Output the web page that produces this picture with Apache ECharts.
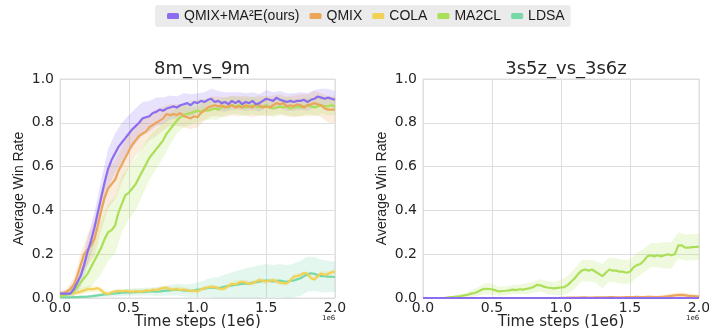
<!DOCTYPE html>
<html>
<head>
<meta charset="utf-8">
<script src="https://cdn.jsdelivr.net/npm/echarts@6/dist/echarts.min.js"></script>
<style>
  html, body { margin: 0; padding: 0; background: #ffffff; }
  #chart { width: 709px; height: 328px; }
</style>
</head>
<body>
<div id="chart"></div>
<script>
// Training steps (in units of 1e6), sampled every 0.025
const steps = Array.from({ length: 81 }, (_, i) => +(i * 0.025).toFixed(3));

const methodNames = ['QMIX+MA\u00B2E(ours)', 'QMIX', 'COLA', 'MA2CL', 'LDSA'];
const methodColors = ['#8c6df0', '#eca65c', '#f2d156', '#abdf57', '#76d7a9'];

const xTicks = [0, 0.5, 1.0, 1.5, 2.0];
const yTicks = [0, 0.2, 0.4, 0.6, 0.8, 1.0];

// ---- 8m_vs_9m : mean win rate ----
const m9Ma2e = [0.02,0.02,0.02,0.02,0.04,0.07,0.10,0.15,0.21,0.26,
  0.32,0.39,0.46,0.53,0.59,0.63,0.66,0.69,0.71,0.73,
  0.75,0.77,0.785,0.80,0.82,0.825,0.83,0.845,0.85,0.86,
  0.855,0.865,0.87,0.875,0.87,0.88,0.885,0.89,0.88,0.895,
  0.89,0.90,0.895,0.905,0.91,0.895,0.90,0.89,0.895,0.885,
  0.90,0.89,0.90,0.885,0.895,0.89,0.90,0.885,0.89,0.90,
  0.91,0.905,0.90,0.915,0.905,0.90,0.895,0.90,0.895,0.90,
  0.90,0.905,0.895,0.905,0.91,0.92,0.915,0.91,0.915,0.91,
  0.905];
const m9Qmix = [0.02,0.02,0.03,0.04,0.06,0.10,0.15,0.20,0.22,0.24,
  0.27,0.33,0.40,0.46,0.50,0.52,0.54,0.58,0.61,0.64,
  0.67,0.70,0.72,0.74,0.75,0.76,0.78,0.79,0.80,0.81,
  0.82,0.84,0.835,0.84,0.835,0.845,0.83,0.825,0.82,0.83,
  0.825,0.845,0.855,0.87,0.875,0.88,0.875,0.88,0.87,0.875,
  0.88,0.87,0.875,0.87,0.88,0.875,0.87,0.885,0.88,0.87,
  0.875,0.87,0.88,0.89,0.885,0.89,0.875,0.88,0.875,0.885,
  0.88,0.87,0.88,0.885,0.89,0.885,0.88,0.865,0.86,0.86,
  0.86];
const m9Cola = [0.02,0.02,0.02,0.022,0.022,0.025,0.03,0.035,0.04,0.04,
  0.042,0.045,0.035,0.022,0.018,0.025,0.03,0.033,0.03,0.033,
  0.03,0.028,0.032,0.029,0.03,0.035,0.033,0.038,0.036,0.042,
  0.045,0.048,0.04,0.038,0.042,0.036,0.04,0.035,0.032,0.034,
  0.03,0.04,0.045,0.048,0.052,0.05,0.045,0.04,0.045,0.055,
  0.065,0.062,0.07,0.074,0.07,0.065,0.067,0.075,0.082,0.078,
  0.075,0.08,0.082,0.075,0.07,0.068,0.067,0.08,0.097,0.10,
  0.105,0.115,0.11,0.09,0.085,0.10,0.112,0.105,0.11,0.118,
  0.12];
const m9Ma2cl = [0.01,0.01,0.015,0.02,0.03,0.05,0.07,0.09,0.11,0.14,
  0.17,0.20,0.23,0.27,0.30,0.31,0.33,0.39,0.43,0.47,
  0.48,0.50,0.52,0.55,0.58,0.61,0.64,0.66,0.68,0.70,
  0.72,0.75,0.77,0.79,0.81,0.825,0.835,0.84,0.845,0.85,
  0.855,0.85,0.86,0.855,0.86,0.865,0.86,0.87,0.875,0.87,
  0.88,0.875,0.88,0.875,0.87,0.875,0.88,0.875,0.87,0.875,
  0.88,0.87,0.865,0.87,0.875,0.87,0.875,0.865,0.87,0.875,
  0.87,0.875,0.88,0.875,0.87,0.875,0.88,0.875,0.875,0.88,
  0.875];
const m9Ldsa = [0.003,0.003,0.003,0.003,0.004,0.004,0.005,0.005,0.006,0.008,
  0.01,0.012,0.014,0.016,0.018,0.02,0.021,0.022,0.024,0.025,
  0.026,0.026,0.027,0.028,0.028,0.029,0.03,0.03,0.029,0.03,
  0.032,0.034,0.035,0.037,0.038,0.036,0.035,0.034,0.033,0.035,
  0.038,0.04,0.043,0.046,0.048,0.047,0.045,0.048,0.052,0.055,
  0.058,0.06,0.062,0.065,0.067,0.066,0.07,0.072,0.075,0.078,
  0.08,0.078,0.076,0.078,0.08,0.076,0.074,0.078,0.08,0.085,
  0.09,0.10,0.108,0.113,0.11,0.105,0.10,0.10,0.098,0.097,
  0.096];

// ---- 8m_vs_9m : half-width of the shaded band, every 0.05 ----
const m9Ma2eSpread = [0.01,0.015,0.03,0.05,0.06,0.07,0.08,0.09,0.09,0.09,
  0.085,0.08,0.075,0.07,0.065,0.06,0.055,0.05,0.05,0.05,
  0.045,0.045,0.045,0.045,0.045,0.04,0.04,0.04,0.04,0.04,
  0.04,0.04,0.04,0.04,0.04,0.04,0.04,0.04,0.04,0.04,
  0.04];
const m9QmixSpread = [0.01,0.015,0.03,0.05,0.07,0.08,0.09,0.09,0.09,0.08,
  0.075,0.07,0.065,0.06,0.06,0.055,0.05,0.05,0.05,0.05,
  0.045,0.045,0.045,0.045,0.045,0.045,0.045,0.045,0.045,0.045,
  0.045,0.045,0.045,0.045,0.05,0.05,0.05,0.055,0.055,0.06,
  0.06];
const m9ColaSpread = [0.01,0.01,0.012,0.015,0.015,0.015,0.012,0.01,0.01,0.01,
  0.01,0.01,0.01,0.01,0.01,0.01,0.01,0.01,0.01,0.01,
  0.01,0.01,0.01,0.01,0.012,0.012,0.012,0.012,0.012,0.012,
  0.012,0.012,0.012,0.012,0.012,0.012,0.012,0.012,0.012,0.012,
  0.012];
const m9Ma2clSpread = [0.01,0.01,0.02,0.05,0.08,0.10,0.12,0.13,0.13,0.13,
  0.12,0.12,0.11,0.10,0.09,0.08,0.07,0.06,0.055,0.055,
  0.05,0.05,0.045,0.045,0.04,0.04,0.04,0.04,0.04,0.04,
  0.04,0.04,0.04,0.04,0.04,0.04,0.04,0.04,0.04,0.04,
  0.04];
const m9LdsaSpread = [0.003,0.003,0.004,0.005,0.006,0.008,0.01,0.012,0.014,0.015,
  0.016,0.017,0.018,0.018,0.02,0.022,0.024,0.026,0.028,0.03,
  0.033,0.038,0.045,0.05,0.055,0.06,0.065,0.07,0.072,0.075,
  0.075,0.075,0.075,0.076,0.078,0.08,0.08,0.078,0.075,0.072,
  0.07];

// ---- 3s5z_vs_3s6z : mean win rate ----
const s6Ma2e = [0,0,0,0,0,0,0,0,0,0, 0,0,0,0,0,0,0,0,0,0,
  0,0,0,0,0,0,0,0,0,0, 0,0,0,0,0,0,0,0,0,0,
  0,0,0,0,0,0,0,0,0,0, 0,0,0,0,0,0,0,0,0,0,
  0,0,0,0,0,0,0,0,0,0, 0,0,0,0,0,0,0,0,0,0, 0];
const s6Qmix = [0,0,0,0,0,0,0,0,0,0, 0,0,0,0,0,0,0,0,0,0,
  0,0,0,0,0,0,0,0,0,0, 0,0,0,0,0,0,0,0,0,0,
  0.001,0.001,0.002,0.002,0.002,0.002,0.003,0.003,0.002,0.002,
  0.003,0.003,0.003,0.003,0.004,0.004,0.003,0.003,0.003,0.004,
  0.004,0.004,0.005,0.004,0.004,0.005,0.005,0.004,0.004,0.005,
  0.006,0.008,0.01,0.012,0.013,0.014,0.012,0.01,0.009,0.008,
  0.007];
const s6Cola = [0,0,0,0,0,0,0,0,0,0, 0,0,0,0,0,0,0,0,0,0,
  0,0,0,0,0,0,0,0,0,0, 0,0,0,0,0,0,0,0,0,0,
  0,0,0,0,0,0,0,0,0,0, 0,0,0,0,0,0,0,0,0,0,
  0,0,0,0,0,0,0,0,0,0, 0,0,0,0,0,0,0,0,0,0, 0];
const s6Ma2cl = [0,0,0,0,0,0,0,0.002,0.004,0.005,
  0.007,0.009,0.012,0.015,0.02,0.023,0.03,0.038,0.042,0.041,
  0.04,0.035,0.03,0.032,0.033,0.035,0.038,0.036,0.04,0.038,
  0.042,0.045,0.05,0.06,0.058,0.052,0.048,0.046,0.044,0.046,
  0.048,0.05,0.06,0.075,0.09,0.11,0.125,0.13,0.125,0.13,
  0.12,0.11,0.10,0.115,0.13,0.125,0.125,0.12,0.12,0.115,
  0.12,0.14,0.15,0.155,0.17,0.19,0.195,0.19,0.195,0.19,
  0.195,0.20,0.195,0.20,0.24,0.24,0.23,0.23,0.232,0.233,
  0.233];
const s6Ldsa = [0,0,0,0,0,0,0,0,0,0, 0,0,0,0,0,0,0,0,0,0,
  0,0,0,0,0,0,0,0,0,0, 0,0,0,0,0,0,0,0,0,0,
  0,0,0,0,0,0,0,0,0,0, 0,0,0,0,0,0,0,0,0,0,
  0,0,0,0,0,0,0,0,0,0, 0,0,0,0,0,0,0,0,0,0, 0];

// ---- 3s5z_vs_3s6z : half-width of the shaded band, every 0.05 ----
const s6QmixSpread = [0,0,0,0,0,0,0,0,0,0,
  0,0,0,0,0,0,0,0,0,0,
  0.002,0.003,0.003,0.003,0.003,0.004,0.004,0.004,0.004,0.004,
  0.005,0.005,0.005,0.006,0.006,0.008,0.01,0.012,0.012,0.01,
  0.008];
const s6Ma2clSpread = [0,0,0,0.002,0.005,0.008,0.01,0.015,0.02,0.025,
  0.025,0.02,0.02,0.02,0.022,0.025,0.025,0.028,0.03,0.03,
  0.035,0.04,0.045,0.05,0.05,0.05,0.055,0.055,0.055,0.055,
  0.055,0.055,0.055,0.055,0.055,0.06,0.06,0.06,0.06,0.06,
  0.06];

const panels = [
  { title: '8m_vs_9m', means: [m9Ma2e, m9Qmix, m9Cola, m9Ma2cl, m9Ldsa],
    spreads: [m9Ma2eSpread, m9QmixSpread, m9ColaSpread, m9Ma2clSpread, m9LdsaSpread] },
  { title: '3s5z_vs_3s6z', means: [s6Ma2e, s6Qmix, s6Cola, s6Ma2cl, s6Ldsa],
    spreads: [null, s6QmixSpread, null, s6Ma2clSpread, null] }
];

const TEXT = '#262626';
const GRID_LINE = '#dedede';
const gridBoxes = [
  { left: 60, top: 79, width: 275, height: 219 },
  { left: 423, top: 79, width: 276, height: 219 }
];
const titleCenters = [197, 561];

// Shaded band drawn as one polygon through the axis scales
function bandSeries(panelIdx, mean, spread, color) {
  const xs = [], lo = [], hi = [];
  for (let k = 0; k < spread.length; k++) {
    const i = k * 2;
    xs.push(steps[i]);
    lo.push(mean[i] - spread[k]);
    hi.push(mean[i] + spread[k]);
  }
  return {
    type: 'custom',
    xAxisIndex: panelIdx, yAxisIndex: panelIdx,
    silent: true, clip: true, z: 1,
    data: [[xs[0], lo[0]]],
    renderItem: function (params, api) {
      const top = xs.map((x, k) => api.coord([x, hi[k]]));
      const bottom = xs.map((x, k) => api.coord([x, lo[k]])).reverse();
      return {
        type: 'polygon',
        shape: { points: top.concat(bottom) },
        style: { fill: color, opacity: 0.2 }
      };
    }
  };
}

const series = [];
panels.forEach((p, pi) => {
  p.spreads.forEach((sp, mi) => {
    if (sp) series.push(bandSeries(pi, p.means[mi], sp, methodColors[mi]));
  });
});
// line drawing order: LDSA, COLA, MA2CL, QMIX, then ours on top
const lineOrder = [4, 2, 3, 1, 0];
panels.forEach((p, pi) => {
  lineOrder.forEach(mi => {
    series.push({
      type: 'line',
      name: methodNames[mi],
      xAxisIndex: pi, yAxisIndex: pi,
      data: steps.map((x, i) => [x, p.means[mi][i]]),
      showSymbol: false, symbol: 'none',
      color: methodColors[mi],
      lineStyle: { width: 2.2, color: methodColors[mi] },
      z: 3
    });
  });
});

const option = {
  animation: false,
  backgroundColor: '#ffffff',
  title: panels.map((p, pi) => ({
    text: p.title,
    left: titleCenters[pi], top: 55, textAlign: 'center',
    textStyle: { fontSize: 18, fontWeight: 'normal', fontFamily: 'DejaVu Sans', color: TEXT }
  })),
  legend: {
    data: methodNames,
    left: 155, top: 5,
    padding: [4, 6, 4, 12],
    itemWidth: 12, itemHeight: 6, itemGap: 10,
    icon: 'roundRect',
    backgroundColor: '#ebebeb',
    borderRadius: 3,
    textStyle: { fontSize: 14, fontFamily: 'Liberation Sans, Arial, sans-serif', color: '#1a1a1a' }
  },
  grid: gridBoxes.map(g => Object.assign({
    show: true, borderColor: GRID_LINE, borderWidth: 1, backgroundColor: '#ffffff',
    containLabel: false, outerBoundsMode: 'none'
  }, g)),
  xAxis: panels.map((p, pi) => ({
    type: 'value', gridIndex: pi,
    min: xTicks[0], max: xTicks[xTicks.length - 1], interval: 0.5,
    axisLine: { show: false }, axisTick: { show: false },
    splitLine: { show: true, lineStyle: { color: GRID_LINE, width: 1 } },
    axisLabel: { formatter: v => v.toFixed(1), fontSize: 14, fontFamily: 'DejaVu Sans', color: TEXT, margin: 3 },
    name: 'Time steps (1e6)', nameLocation: 'middle', nameGap: 17, nameMoveOverlap: false,
    nameTextStyle: { fontSize: 15, fontFamily: 'DejaVu Sans', color: TEXT }
  })),
  yAxis: panels.map((p, pi) => ({
    type: 'value', gridIndex: pi,
    min: yTicks[0], max: yTicks[yTicks.length - 1], interval: 0.2,
    axisLine: { show: false }, axisTick: { show: false },
    splitLine: { show: true, lineStyle: { color: GRID_LINE, width: 1 } },
    axisLabel: { formatter: v => v.toFixed(1), fontSize: 14, fontFamily: 'DejaVu Sans', color: TEXT, margin: 6 },
    name: 'Average Win Rate', nameLocation: 'middle', nameGap: 34, nameMoveOverlap: false,
    nameTextStyle: { fontSize: 14, fontFamily: 'Liberation Sans Narrow, Liberation Sans, Arial', color: TEXT }
  })),
  graphic: gridBoxes.map(g => ({
    type: 'text',
    left: g.left + g.width - 13, top: 315,
    style: { text: '1e6', fontSize: 7, fontFamily: 'DejaVu Sans', fill: TEXT }
  })),
  series: series
};

const chart = echarts.init(document.getElementById('chart'), null, { renderer: 'canvas' });
chart.setOption(option);
</script>
</body>
</html>
